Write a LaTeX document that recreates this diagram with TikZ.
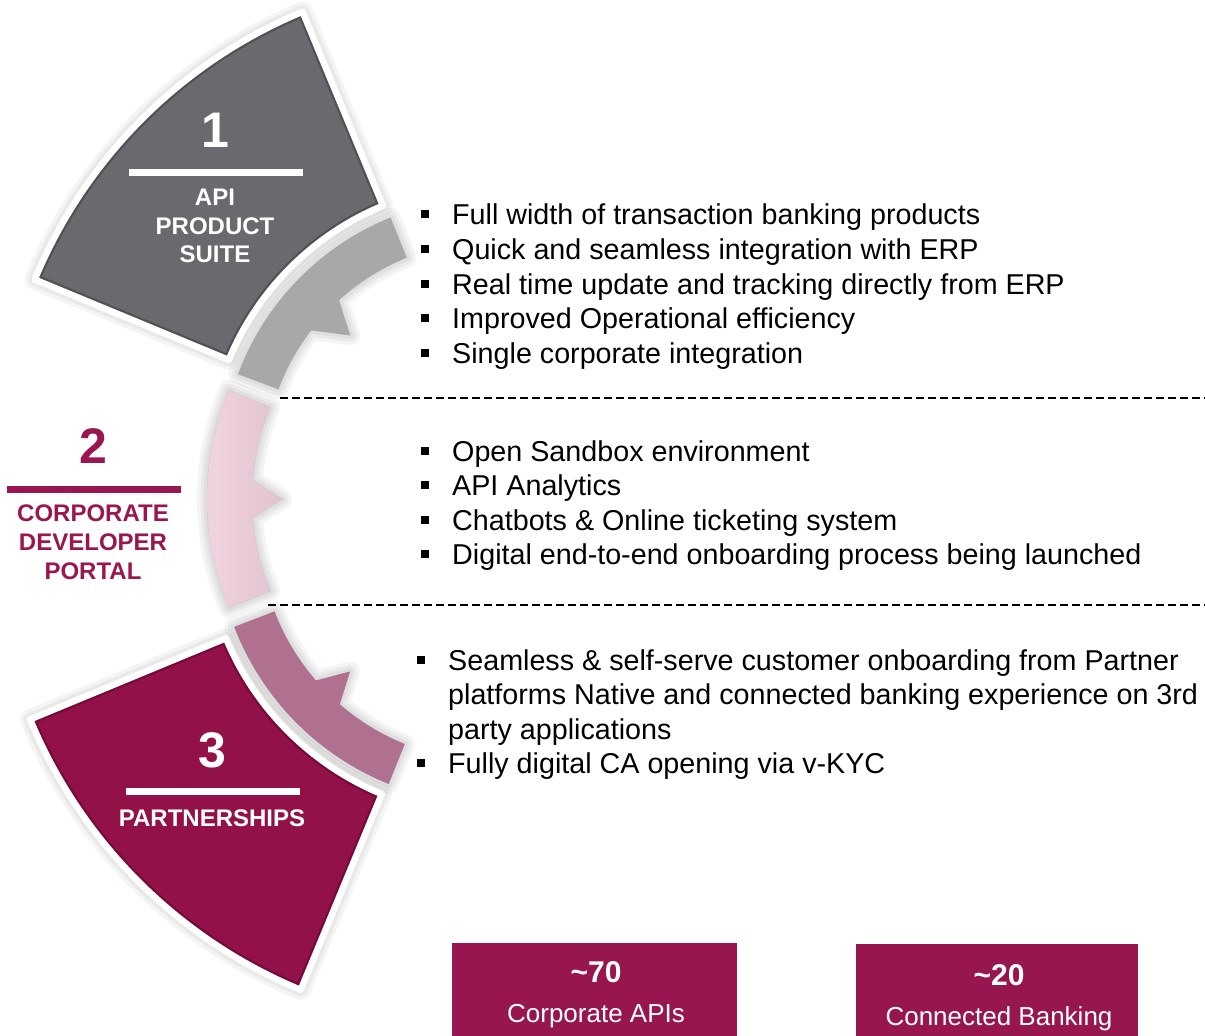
\documentclass[tikz,border=0pt]{standalone}
\usepackage{fontspec}
\setmainfont{Liberation Sans}
\usetikzlibrary{calc}
\definecolor{segGrey}{HTML}{69696E}
\definecolor{segGreyDk}{HTML}{505055}
\definecolor{segMag}{HTML}{931149}
\definecolor{segMagDk}{HTML}{74093A}
\definecolor{arcGrey}{HTML}{A8A8A8}
\definecolor{arcPinkL}{HTML}{F1D6E1}
\definecolor{arcPinkR}{HTML}{E2C2D0}
\definecolor{arcMag}{HTML}{B0708F}
\definecolor{labMag}{HTML}{9A1650}
\definecolor{boxMag}{HTML}{981650}
\newcommand{\annsector}[5]{($(#1)+(#2:#4pt)$) arc[start angle=#2,end angle=#3,radius=#4pt] -- ($(#1)+(#3:#5pt)$) arc[start angle=#3,end angle=#2,radius=#5pt] -- cycle}
\newcommand{\barbarc}[9]{($(#1)+(#2:#4pt)$) arc[start angle=#2,end angle=#3,radius=#4pt] -- ($(#1)+(#3:#5pt)$) arc[start angle=#3,end angle=#6,radius=#5pt] -- ($(#1)+(#7:#8pt)$) -- ($(#1)+(#9:#5pt)$) arc[start angle=#9,end angle=#2,radius=#5pt] -- cycle}
\newcommand{\bulsq}{\llap{\raisebox{6pt}{\rule{8pt}{8pt}}\hspace{23pt}}}
\begin{document}
\begin{tikzpicture}[x=1pt,y=1pt,
  shade layer/.style={draw=black,fill=black,opacity=0.045,line join=round},
  bevel/.style={line width=11pt,line join=round},
  rim/.style={draw=white,line width=6.5pt,line join=round},
  bignum/.style={inner sep=0pt,font=\bfseries\fontsize{50}{50}\selectfont},
  seglabel/.style={inner sep=0pt,align=center,font=\bfseries\fontsize{24}{28.8}\selectfont},
  bul/.style={anchor=base west,inner sep=0pt,font=\fontsize{28.7}{34}\selectfont},
  dashline/.style={draw=black,line width=2pt,dash pattern=on 8pt off 4pt},
  magbox/.style={fill=boxMag,draw=none,inner sep=0pt,anchor=north west},
  boxnum/.style={text=white,inner sep=0pt,font=\bfseries\fontsize{30}{30}\selectfont},
  boxtxt/.style={text=white,inner sep=0pt,font=\fontsize{26}{26}\selectfont}]
\useasboundingbox (0,0) rectangle (1205,-1036);
\coordinate (c1) at (492,-469);
\coordinate (c2) at (492,-499);
\coordinate (c3) at (492,-528);

% soft shadows
\foreach \w in {20,13,7,1}{
  \filldraw[shade layer,line width=\w pt,shift={(3,-4)}] \annsector{c1}{112.5}{157.5}{495}{285};
  \filldraw[shade layer,line width=\w pt,shift={(3,-4)}] \annsector{c3}{202.5}{247.5}{500}{288};
  \filldraw[shade layer,line width=\w pt,shift={(5,-4)}] \barbarc{c1}{159.5}{112}{271}{228}{132.2}{136.7}{195}{142.5};
  \filldraw[shade layer,line width=\w pt,shift={(5,-3)}] \barbarc{c2}{202.5}{157.5}{285}{240}{175.5}{180}{210}{184.5};
  \filldraw[shade layer,line width=\w pt,shift={(5,-4)}] \barbarc{c3}{248}{201}{276}{233}{220.9}{225.3}{202}{229.2};
}

% segment 1
\fill[segGrey] \annsector{c1}{112.5}{157.5}{495}{285};
\begin{scope}
  \clip \annsector{c1}{112.5}{157.5}{495}{285};
  \draw[segGreyDk,bevel] \annsector{c1}{112.5}{157.5}{495}{285};
\end{scope}
\draw[rim] \annsector{c1}{112.5}{157.5}{495}{285};
% segment 3
\fill[segMag] \annsector{c3}{202.5}{247.5}{500}{288};
\begin{scope}
  \clip \annsector{c3}{202.5}{247.5}{500}{288};
  \draw[segMagDk,bevel] \annsector{c3}{202.5}{247.5}{500}{288};
\end{scope}
\draw[rim] \annsector{c3}{202.5}{247.5}{500}{288};

% arrow arcs
\fill[arcGrey] \barbarc{c1}{159.5}{112}{271}{228}{132.2}{136.7}{195}{142.5};
\shade[left color=arcPinkL,right color=arcPinkR] \barbarc{c2}{202.5}{157.5}{285}{240}{175.5}{180}{210}{184.5};
\fill[arcMag] \barbarc{c3}{248}{201}{276}{233}{220.9}{225.3}{202}{229.2};

% segment 1 labels
\node[bignum,text=white] (n1) at (215,-130) {1};
\coordinate (l1a) at (129,-172); \coordinate (l1b) at (303,-172);
\draw[white,line width=7pt] (l1a) -- (l1b);
\node[seglabel,text=white] (s1) at (215,-226) {API\\PRODUCT\\SUITE};

% label 2
\node[bignum,text=labMag] (n2) at (93,-446) {2};
\coordinate (l2a) at (7,-489); \coordinate (l2b) at (181,-489);
\draw[labMag,line width=7pt] (l2a) -- (l2b);
\node[seglabel,text=labMag] (s2) at (93,-542) {CORPORATE\\DEVELOPER\\PORTAL};

% segment 3 labels
\node[bignum,text=white] (n3) at (212,-750) {3};
\coordinate (l3a) at (126,-791); \coordinate (l3b) at (300,-791);
\draw[white,line width=7pt] (l3a) -- (l3b);
\node[seglabel,text=white] (s3) at (212,-818) {PARTNERSHIPS};

% dashed separators
\coordinate (d1a) at (280,-398); \coordinate (d1b) at (1205,-398);
\coordinate (d2a) at (268,-605); \coordinate (d2b) at (1205,-605);
\draw[dashline] (d1a) -- (d1b);
\draw[dashline] (d2a) -- (d2b);

% bullets section 1
\node[bul] (b11) at (452,-224) {\bulsq Full width of transaction banking products};
\node[bul] (b12) at (452,-259) {\bulsq Quick and seamless integration with ERP};
\node[bul] (b13) at (452,-294) {\bulsq Real time update and tracking directly from ERP};
\node[bul] (b14) at (452,-328) {\bulsq Improved Operational efficiency};
\node[bul] (b15) at (452,-363) {\bulsq Single corporate integration};
% bullets section 2
\node[bul] (b21) at (452,-461) {\bulsq Open Sandbox environment};
\node[bul] (b22) at (452,-495) {\bulsq API Analytics};
\node[bul] (b23) at (452,-530) {\bulsq Chatbots \& Online ticketing system};
\node[bul] (b24) at (452,-564) {\bulsq Digital end-to-end onboarding process being launched};
% bullets section 3
\node[bul] (b31) at (448,-670) {\bulsq Seamless \& self-serve customer onboarding from Partner};
\node[bul] (b32) at (448,-704) {platforms Native and connected banking experience on 3rd};
\node[bul] (b33) at (448,-739) {party applications};
\node[bul] (b34) at (448,-773) {\bulsq Fully digital CA opening via v-KYC};

% bottom boxes
\node[magbox,minimum width=285pt,minimum height=100pt] (box1) at (452,-943) {};
\node[magbox,minimum width=282pt,minimum height=100pt] (box2) at (856,-944) {};
\node[boxnum] (k1) at (596,-972) {\textasciitilde70};
\node[boxtxt,anchor=base] (t1) at (596,-1022) {Corporate APIs};
\node[boxnum] (k2) at (999,-975) {\textasciitilde20};
\node[boxtxt,anchor=base] (t2) at (999,-1025) {Connected Banking};
\end{tikzpicture}
\end{document}
